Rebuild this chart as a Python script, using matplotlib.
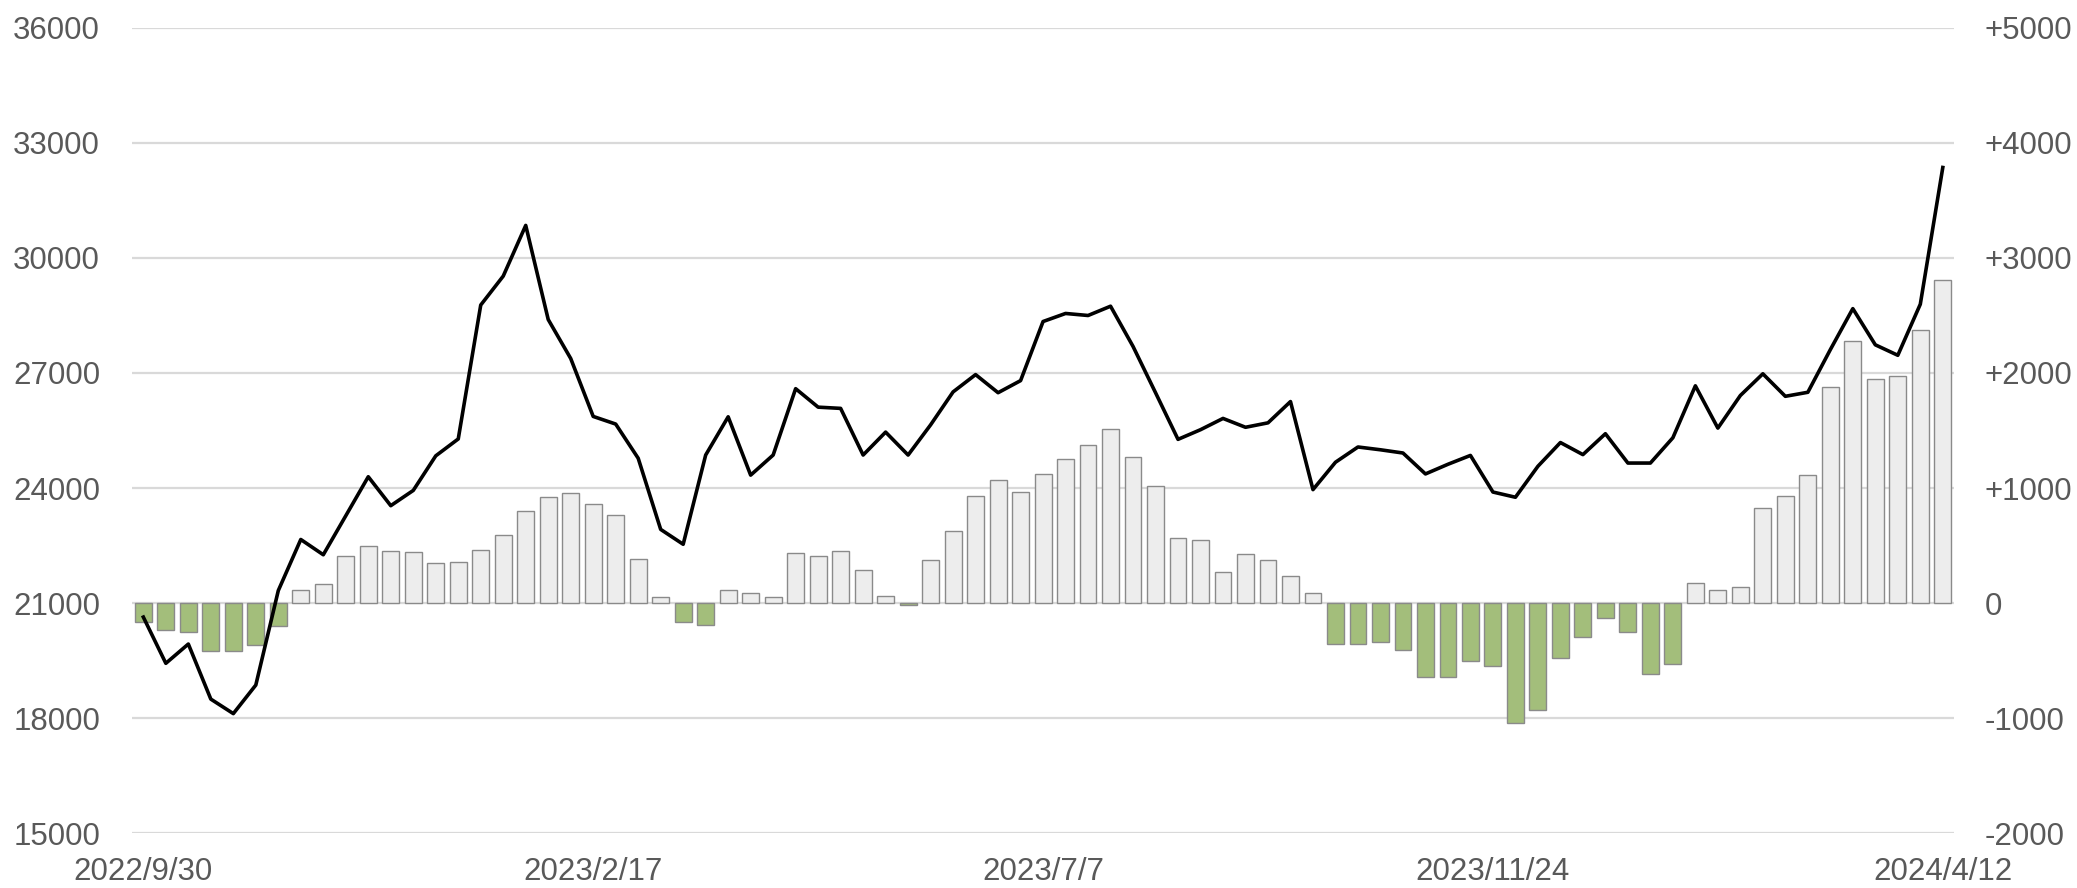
import numpy as np
import pandas as pd
import matplotlib
matplotlib.use('Agg')
import matplotlib.pyplot as plt
from matplotlib.ticker import FixedLocator, FuncFormatter

plt.rcParams['font.family'] = ['Liberation Sans', 'DejaVu Sans']

# Weekly dates, 2022/9/30 .. 2024/4/12
dates = pd.date_range('2022-09-30', '2024-04-12', freq='7D')

# Weekly change (right axis, bars)
change = [-168, -234, -255, -413, -420, -364, -203, 112, 164, 409,
          493, 451, 444, 350, 357, 458, 588, 804, 923, 955,
          857, 762, 385, 56, -168, -189, 112, 91, 52, 434,
          409, 451, 283, 63, -17, 374, 626, 927, 1067, 965,
          1123, 1255, 1374, 1511, 1273, 1014, 563, 546, 269, 430,
          371, 238, 91, -360, -360, -339, -409, -643, -643, -504,
          -546, -1039, -927, -479, -297, -129, -248, -615, -528, 178,
          115, 136, 822, 927, 1112, 1874, 2277, 1948, 1976, 2371,
          2805]

# Level (left axis, line)
level = [20633, 19427, 19930, 18493, 18115, 18860, 21325, 22657, 22259, 23276,
         24294, 23539, 23937, 24839, 25280, 28773, 29528, 30850, 28395, 27378,
         25867, 25668, 24776, 22920, 22532, 24860, 25857, 24336, 24860, 26591,
         26109, 26077, 24860, 25458, 24860, 25647, 26507, 26958, 26486, 26801,
         28343, 28553, 28500, 28742, 27693, 26486, 25269, 25521, 25815, 25584,
         25700, 26255, 23958, 24672, 25070, 24997, 24913, 24367, 24619, 24850,
         23895, 23759, 24567, 25186, 24871, 25416, 24651, 24651, 25311, 26665,
         25563, 26413, 26979, 26392, 26497, 27609, 28679, 27735, 27462, 28794,
         32361]

left_ticks = [15000, 18000, 21000, 24000, 27000, 30000, 33000, 36000]
right_ticks = [-2000, -1000, 0, 1000, 2000, 3000, 4000, 5000]
label_idx = [0, 20, 40, 60, 80]

TXT = '#595959'
GRID = '#D9D9D9'

x = np.arange(len(dates))
fig = plt.figure(figsize=(20.77, 8.88), dpi=100)
ax1 = fig.add_axes([0.0636, 0.0619, 0.8772, 0.9066])
ax2 = ax1.twinx()
ax1.set_zorder(2)
ax2.set_zorder(1)
ax1.patch.set_visible(False)

# bars on the right scale
cols = ['#A3BE7B' if v < 0 else '#EDEDED' for v in change]
ax2.bar(x, change, width=0.75, color=cols, edgecolor='#8A8A8A', linewidth=1.0, zorder=2)
ax2.set_ylim(-2000, 5000)
ax2.yaxis.set_major_locator(FixedLocator(right_ticks))
ax2.yaxis.set_major_formatter(FuncFormatter(lambda v, p: f'+{int(v)}' if v > 0 else f'{int(v)}'))
ax2.set_axisbelow(True)
ax2.yaxis.grid(True, color=GRID, linewidth=1.6)

# line on the left scale
ax1.plot(x, level, color='black', linewidth=2.6, zorder=3)
ax1.set_ylim(15000, 36000)
ax1.yaxis.set_major_locator(FixedLocator(left_ticks))
ax1.set_xlim(-0.5, len(dates) - 0.5)
ax1.set_xticks(label_idx)
ax1.set_xticklabels([f'{d.year}/{d.month}/{d.day}' for d in dates[label_idx]])

for a in (ax1, ax2):
    for s in a.spines.values():
        s.set_visible(False)
    a.tick_params(axis='both', length=0, labelsize=22.5, labelcolor=TXT)
ax1.tick_params(axis='y', pad=23)
ax2.tick_params(axis='y', pad=22)
ax1.tick_params(axis='x', pad=17)

fig.savefig('out.png', dpi=100)
